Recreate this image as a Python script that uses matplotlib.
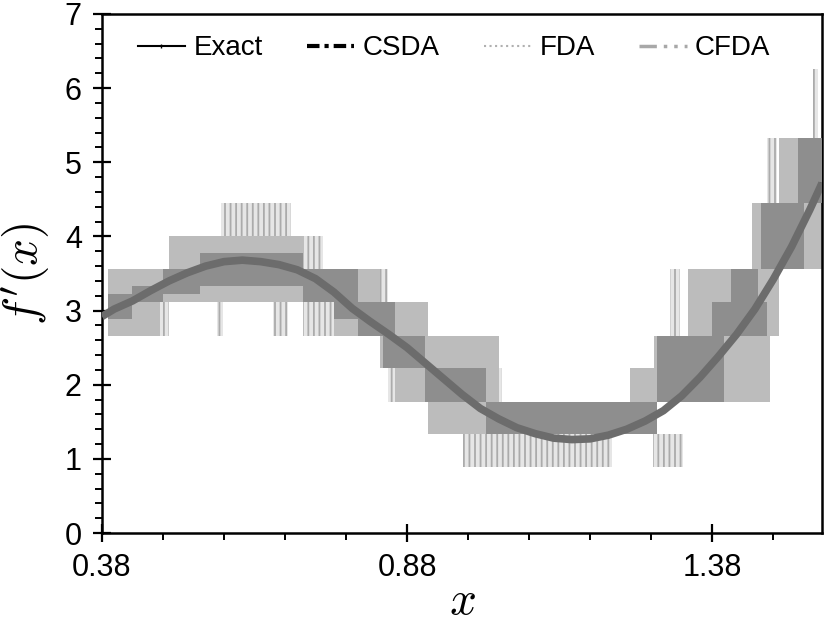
import matplotlib
matplotlib.use('Agg')

import matplotlib.pyplot as plt
from matplotlib.lines import Line2D
import numpy as np

plt.rcParams['font.family'] = ['Liberation Sans', 'DejaVu Sans']
plt.rcParams['mathtext.fontset'] = 'cm'
plt.rcParams['hatch.linewidth'] = 1.3

# exact derivative
x_exact = [0.38, 0.40, 0.43, 0.46, 0.49, 0.52, 0.55, 0.58, 0.61, 0.64, 0.67,
           0.70, 0.73, 0.76, 0.79, 0.82, 0.85, 0.88, 0.91, 0.94, 0.97, 1.00,
           1.03, 1.06, 1.09, 1.12, 1.15, 1.18, 1.21, 1.24, 1.27, 1.30, 1.33,
           1.36, 1.39, 1.42, 1.45, 1.48, 1.51, 1.54, 1.56]
y_exact = [2.92, 3.02, 3.13, 3.27, 3.40, 3.51, 3.60, 3.66, 3.68, 3.66, 3.62,
           3.55, 3.43, 3.25, 3.03, 2.85, 2.68, 2.50, 2.29, 2.08, 1.87, 1.68,
           1.54, 1.42, 1.34, 1.28, 1.26, 1.27, 1.32, 1.40, 1.51, 1.65, 1.85,
           2.10, 2.38, 2.68, 3.02, 3.42, 3.86, 4.36, 4.72]

# FDA bands (light) : x from, x to, low level, high level
fda_x0 = [0.390, 0.475, 0.490, 0.710, 0.760, 0.835, 0.860, 0.915, 1.030,
          1.245, 1.285, 1.340, 1.385, 1.440, 1.445, 1.490]
fda_x1 = [0.475, 0.540, 0.710, 0.835, 0.865, 0.915, 0.970, 1.030, 1.250,
          1.290, 1.385, 1.460, 1.475, 1.490, 1.560, 1.560]
fda_lo = [2.66, 3.11, 3.11, 3.11, 2.66, 2.22, 1.77, 1.33, 1.33,
          1.33, 1.77, 2.66, 1.77, 2.66, 3.56, 4.45]
fda_hi = [3.56, 3.56, 4.00, 3.56, 3.11, 3.11, 2.66, 2.66, 1.77,
          2.22, 2.66, 3.56, 2.66, 3.56, 4.45, 5.33]

# FDA dotted spikes
spk_x0 = [0.393, 0.575, 0.455, 0.568, 0.660, 0.710, 0.710, 0.814, 0.835,
          0.865, 0.849, 0.929, 0.972, 1.283, 1.311, 1.446, 1.470, 1.546, 1.030]
spk_x1 = [0.431, 0.690, 0.490, 0.578, 0.685, 0.760, 0.742, 0.848, 0.845,
          0.900, 0.913, 0.967, 1.215, 1.332, 1.327, 1.487, 1.487, 1.554, 1.036]
spk_lo = [2.66, 4.00, 2.66, 2.66, 2.66, 2.66, 3.56, 3.11, 2.66,
          2.66, 1.77, 1.33, 0.89, 0.89, 2.66, 3.56, 4.45, 5.33, 1.33]
spk_hi = [3.56, 4.45, 3.11, 3.11, 3.11, 3.11, 4.00, 3.56, 3.11,
          3.11, 2.22, 1.77, 1.33, 1.33, 3.56, 4.45, 5.33, 6.26, 2.22]

# CFDA bands (darker)
cfda_x0 = [0.390, 0.430, 0.480, 0.540, 0.710, 0.760, 0.800, 0.840, 0.910,
           1.010, 1.290, 1.380, 1.410, 1.460, 1.520]
cfda_x1 = [0.430, 0.480, 0.540, 0.710, 0.760, 0.800, 0.860, 0.910, 1.010,
           1.290, 1.400, 1.470, 1.455, 1.530, 1.560]
cfda_lo = [2.88, 3.11, 3.22, 3.33, 3.11, 2.88, 2.66, 2.22, 1.77,
           1.33, 1.77, 2.66, 3.11, 3.56, 4.45]
cfda_hi = [3.22, 3.33, 3.56, 3.78, 3.56, 3.56, 3.11, 2.66, 2.22,
           1.77, 2.66, 3.11, 3.56, 4.45, 5.33]

fig = plt.figure(figsize=(8.27, 6.24), dpi=100)
ax = fig.add_axes([0.1233, 0.1458, 0.8707, 0.8318])

def bands(x0, x1, lo, hi, **kw):
    x0 = np.array(x0); x1 = np.array(x1)
    lo = np.array(lo); hi = np.array(hi)
    ax.bar(x0, hi - lo, width=x1 - x0, bottom=lo, align='edge', **kw)

bands(spk_x0, spk_x1, spk_lo, spk_hi, facecolor='#e6e6e6', edgecolor='#ababab',
      hatch='|||', linewidth=0, zorder=1)
bands(fda_x0, fda_x1, fda_lo, fda_hi, color='#bcbcbc', linewidth=0, zorder=2)
bands(cfda_x0, cfda_x1, cfda_lo, cfda_hi, color='#8e8e8e', linewidth=0, zorder=3)

ax.plot(x_exact, y_exact, color='black', lw=2.5, ls=(0, (5, 1.5, 1.5, 1.5)), zorder=4)
ax.plot(x_exact, y_exact, color='#6c6c6c', lw=5.5, solid_capstyle='butt', zorder=5)

ax.set_xlim(0.38, 1.56)
ax.set_ylim(0, 7)
ax.set_xticks([0.38, 0.88, 1.38])
ax.set_xticklabels(['0.38', '0.88', '1.38'])
ax.set_xticks([0.48, 0.58, 0.68, 0.78, 0.98, 1.08, 1.18, 1.28, 1.48], minor=True)
ax.set_yticks(range(8))
ax.set_yticks([v / 5 for v in range(36)], minor=True)

for s in ax.spines.values():
    s.set_linewidth(1.8)
ax.tick_params(which='major', direction='inout', length=13, width=1.6,
               labelsize=22, pad=8)
ax.tick_params(which='minor', direction='out', length=5, width=1.4)

ax.set_xlabel('$x$', fontsize=34, labelpad=-2)
ax.set_ylabel("$f'(x)$", fontsize=34, labelpad=9)

handles = [
    Line2D([], [], color='black', lw=1.5, marker='|', markersize=3),
    Line2D([], [], color='black', lw=3, ls=(0, (3, 1.2, 1, 1.2))),
    Line2D([], [], color='#b0b0b0', lw=1.5, ls=':'),
    Line2D([], [], color='#a8a8a8', lw=2.5, ls=(0, (5, 2, 1, 2, 1, 2))),
]
ax.legend(handles, ['Exact', 'CSDA', 'FDA', 'CFDA'], loc='center',
          bbox_to_anchor=(0.489, 0.934), ncol=4, frameon=False, fontsize=20,
          handlelength=1.7, handletextpad=0.3, columnspacing=1.6)

plt.savefig('out.png', dpi=100)
plt.close()
